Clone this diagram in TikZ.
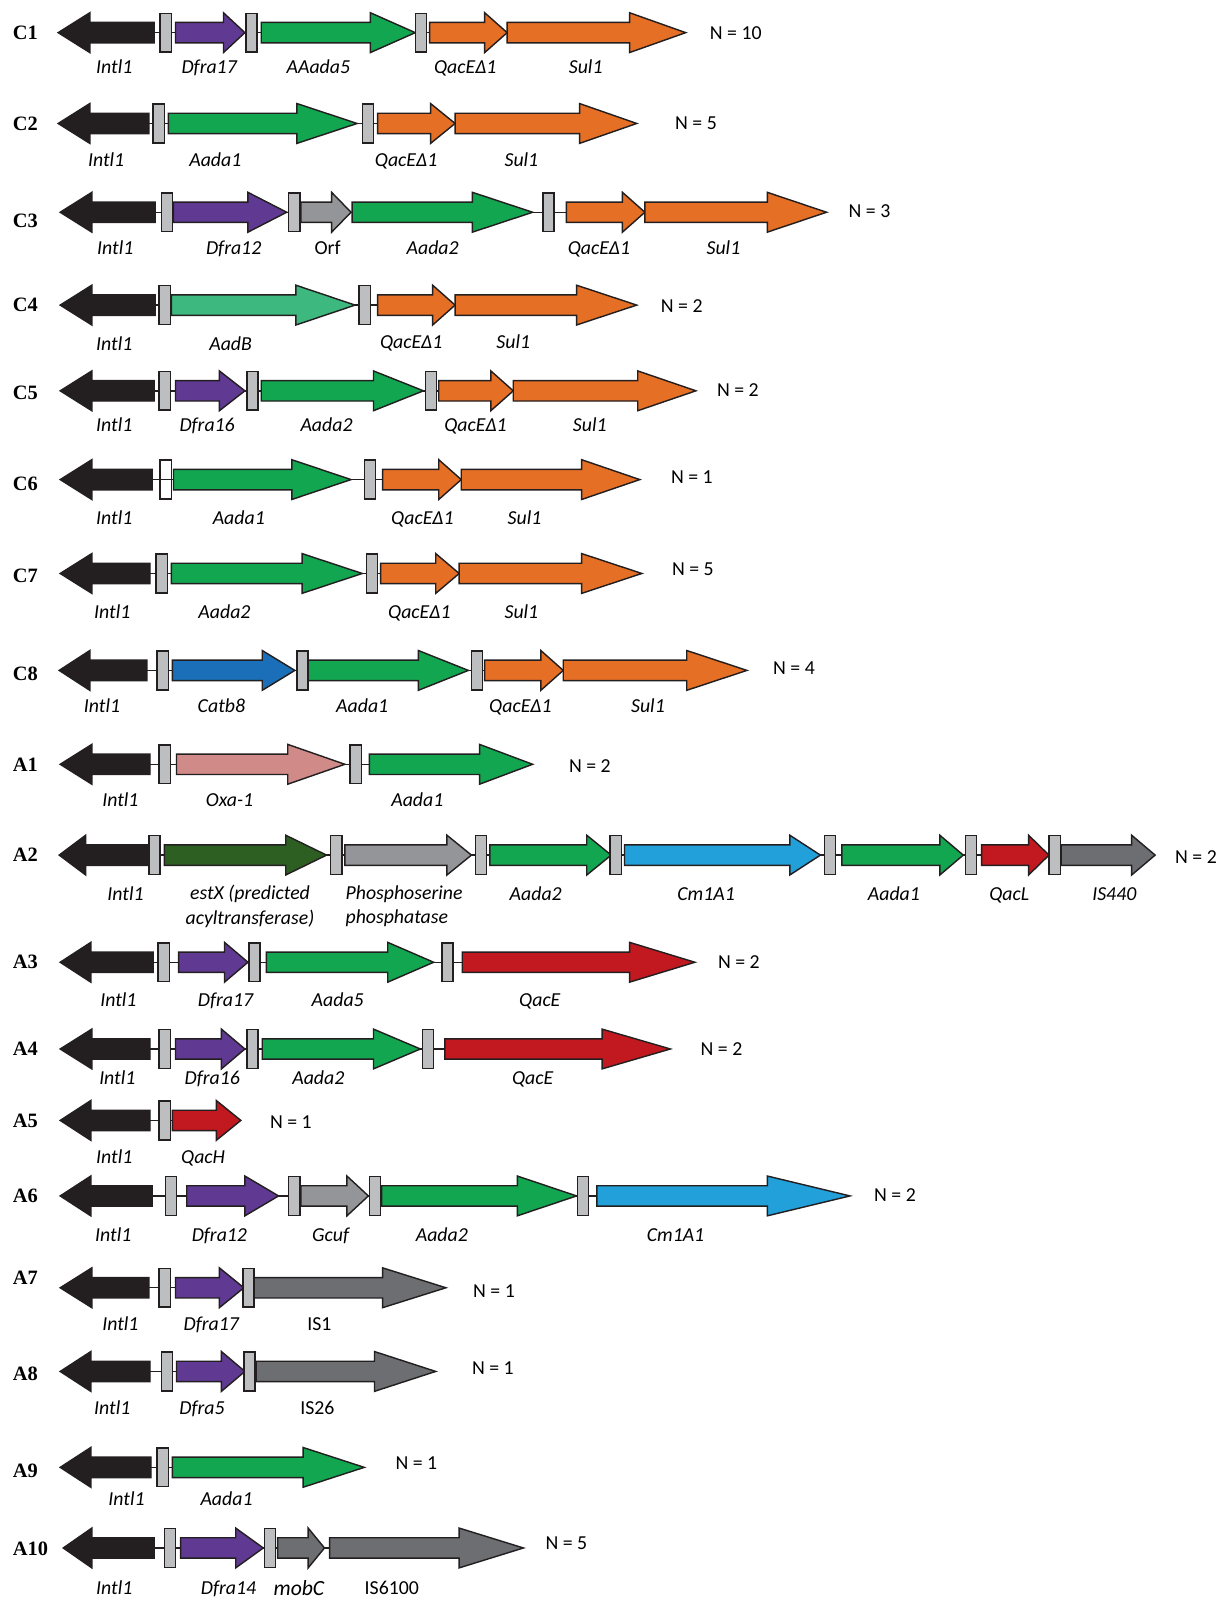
\documentclass[tikz,border=0pt]{standalone}
\usepackage{fontspec}
\setmainfont{Carlito}
\newfontfamily\rowfont{Liberation Serif}

\definecolor{intblack}{HTML}{231F20}
\definecolor{cassgrey}{HTML}{BCBEC0}
\definecolor{dfpurple}{HTML}{603A92}
\definecolor{aagreen}{HTML}{13A651}
\definecolor{adbgreen}{HTML}{3DB87E}
\definecolor{qacorange}{HTML}{E66F26}
\definecolor{catblue}{HTML}{1A6FB8}
\definecolor{oxapink}{HTML}{D08A88}
\definecolor{estgreen}{HTML}{2E5F22}
\definecolor{orfgrey}{HTML}{939598}
\definecolor{cmblue}{HTML}{22A0DA}
\definecolor{qacred}{HTML}{C1191F}
\definecolor{isgrey}{HTML}{6D6E71}

\tikzset{every picture/.style={line width=0.7pt}}
\tikzset{
  gene/.style={draw=intblack, line join=miter},
  cass/.style={draw=intblack, fill=cassgrey},
  bb/.style={draw=intblack},
  twolab/.style={font=\fontsize{9.7}{12}\selectfont\itshape, inner sep=0pt},
  lab/.style={twolab, text height=6.8pt, text depth=1.8pt, yshift=-0.8pt},
  uplab/.style={font=\fontsize{9.7}{12}\selectfont, inner sep=0pt, text height=6.8pt, text depth=1.8pt, yshift=-0.8pt},
  nlab/.style={font=\fontsize{9.7}{12}\selectfont, anchor=west, inner sep=0pt},
  rowlab/.style={font=\rowfont\bfseries\fontsize{10}{12}\selectfont, anchor=west, inner sep=0pt}
}

% gene arrow pointing right: colour, start, head start, tip, y
\newcommand{\gene}[5]{\draw[gene,fill=#1] (#2,#5-10) -- (#3,#5-10) -- (#3,#5-19.5) -- (#4,#5) -- (#3,#5+19.5) -- (#3,#5+10) -- (#2,#5+10) -- cycle;}
% integrase arrow pointing left: tip, head base, tail, y
\newcommand{\intl}[4]{\draw[gene,fill=intblack] (#3,#4-10) -- (#2,#4-10) -- (#2,#4-19.5) -- (#1,#4) -- (#2,#4+19.5) -- (#2,#4+10) -- (#3,#4+10) -- cycle;}
% attC box: x, y
\newcommand{\cass}[2]{\draw[cass] (#1,#2-19) rectangle ++(11,38);}
% backbone line: name, from, to, y
\newcommand{\backbone}[4]{\coordinate (#1a) at (#2,#4); \coordinate (#1b) at (#3,#4); \draw[bb] (#1a) -- (#1b);}

\begin{document}
\begin{tikzpicture}[x=0.5pt,y=0.5pt,yscale=-1,xscale=1]
\useasboundingbox (0,0) rectangle (1198,1568);

% Row C1
\backbone{c1}{151}{497}{32}
\intl{57}{88}{151}{32}
\cass{157}{32}
\gene{dfpurple}{172}{219}{240}{32}
\cass{241}{32}
\gene{aagreen}{256}{363}{407}{32}
\cass{407}{32}
\gene{qacorange}{421}{475}{497}{32}
\gene{qacorange}{497}{617}{672}{32}
\node[rowlab] (c1) at (12,32) {C1};
\node[lab] (c1g1) at (112,65) {Intl1};
\node[lab] (c1g2) at (205,65) {Dfra17};
\node[lab] (c1g3) at (312,65) {AAada5};
\node[lab] (c1g4) at (456,65) {QacEΔ1};
\node[lab] (c1g5) at (574,65) {Sul1};
\node[nlab] (c1n) at (695,32) {N = 10};

% Row C2
\backbone{c2}{146}{446}{121}
\intl{57}{88}{146}{121}
\cass{150}{121}
\gene{aagreen}{165}{291}{350}{121}
\cass{355}{121}
\gene{qacorange}{370}{422}{446}{121}
\gene{qacorange}{446}{568}{624}{121}
\node[rowlab] (c2) at (12,121) {C2};
\node[lab] (c2g1) at (104,157) {Intl1};
\node[lab] (c2g2) at (211,157) {Aada1};
\node[lab] (c2g3) at (398,157) {QacEΔ1};
\node[lab] (c2g4) at (511,157) {Sul1};
\node[nlab] (c2n) at (661,121) {N = 5};

% Row C3
\backbone{c3}{152}{632}{208}
\intl{59}{90}{152}{208}
\cass{158}{208}
\gene{dfpurple}{170}{243}{281}{208}
\cass{283}{208}
\gene{orfgrey}{295}{325}{344}{208}
\gene{aagreen}{345}{463}{522}{208}
\cass{532}{208}
\gene{qacorange}{555}{610}{632}{208}
\gene{qacorange}{632}{752}{810}{208}
\node[rowlab] (c3) at (12,216) {C3};
\node[lab] (c3g1) at (113,243) {Intl1};
\node[lab] (c3g2) at (229,243) {Dfra12};
\node[uplab] (c3g3) at (321,243) {Orf};
\node[lab] (c3g4) at (424,243) {Aada2};
\node[lab] (c3g5) at (587,243) {QacEΔ1};
\node[lab] (c3g6) at (709,243) {Sul1};
\node[nlab] (c3n) at (831,207) {N = 3};

% Row C4
\backbone{c4}{152}{446}{299}
\intl{59}{90}{152}{299}
\cass{156}{299}
\gene{adbgreen}{168}{290}{348}{299}
\cass{352}{299}
\gene{qacorange}{370}{424}{446}{299}
\gene{qacorange}{446}{565}{624}{299}
\node[rowlab] (c4) at (12,299) {C4};
\node[lab] (c4g1) at (112,337) {Intl1};
\node[lab] (c4g2) at (226,337) {AadB};
\node[lab] (c4g3) at (403,335) {QacEΔ1};
\node[lab] (c4g4) at (503,335) {Sul1};
\node[nlab] (c4n) at (647,300) {N = 2};

% Row C5
\backbone{c5}{151}{503}{383}
\intl{59}{90}{151}{383}
\cass{156}{383}
\gene{dfpurple}{172}{215}{240}{383}
\cass{242}{383}
\gene{aagreen}{256}{366}{415}{383}
\cass{417}{383}
\gene{qacorange}{430}{481}{503}{383}
\gene{qacorange}{503}{625}{682}{383}
\node[rowlab] (c5) at (12,385) {C5};
\node[lab] (c5g1) at (112,416) {Intl1};
\node[lab] (c5g2) at (203,416) {Dfra16};
\node[lab] (c5g3) at (320,416) {Aada2};
\node[lab] (c5g4) at (466,416) {QacEΔ1};
\node[lab] (c5g5) at (578,416) {Sul1};
\node[nlab] (c5n) at (702,382) {N = 2};

% Row C6
\backbone{c6}{149}{452}{470}
\intl{59}{90}{149}{470}
\draw[draw=intblack] (157,451) rectangle ++(11,38);
\gene{aagreen}{170}{286}{344}{470}
\cass{357}{470}
\gene{qacorange}{375}{430}{452}{470}
\gene{qacorange}{452}{570}{627}{470}
\node[rowlab] (c6) at (12,474) {C6};
\node[lab] (c6g1) at (112,507) {Intl1};
\node[lab] (c6g2) at (234,507) {Aada1};
\node[lab] (c6g3) at (414,507) {QacEΔ1};
\node[lab] (c6g4) at (514,507) {Sul1};
\node[nlab] (c6n) at (657,468) {N = 1};

% Row C7
\backbone{c7}{147}{450}{562}
\intl{59}{90}{147}{562}
\cass{153}{562}
\gene{aagreen}{168}{296}{355}{562}
\cass{359}{562}
\gene{qacorange}{373}{427}{450}{562}
\gene{qacorange}{450}{570}{629}{562}
\node[rowlab] (c7) at (12,564) {C7};
\node[lab] (c7g1) at (110,600) {Intl1};
\node[lab] (c7g2) at (220,600) {Aada2};
\node[lab] (c7g3) at (411,600) {QacEΔ1};
\node[lab] (c7g4) at (511,600) {Sul1};
\node[nlab] (c7n) at (658,558) {N = 5};

% Row C8
\backbone{c8}{144}{552}{657}
\intl{58}{88}{144}{657}
\cass{154}{657}
\gene{catblue}{169}{257}{289}{657}
\cass{291}{657}
\gene{aagreen}{302}{410}{459}{657}
\cass{462}{657}
\gene{qacorange}{475}{530}{552}{657}
\gene{qacorange}{552}{673}{732}{657}
\node[rowlab] (c8) at (12,660) {C8};
\node[lab] (c8g1) at (100,692) {Intl1};
\node[lab] (c8g2) at (217,692) {Catb8};
\node[lab] (c8g3) at (355,692) {Aada1};
\node[lab] (c8g4) at (510,692) {QacEΔ1};
\node[lab] (c8g5) at (635,692) {Sul1};
\node[nlab] (c8n) at (757,655) {N = 4};

% Row A1
\backbone{a1}{147}{362}{749}
\intl{59}{90}{147}{749}
\cass{156}{749}
\gene{oxapink}{173}{282}{338}{749}
\cass{343}{749}
\gene{aagreen}{362}{470}{522}{749}
\node[rowlab] (a1) at (12,749) {A1};
\node[lab] (a1g1) at (118,784) {Intl1};
\node[lab] (a1g2) at (225,784) {Oxa-1};
\node[lab] (a1g3) at (409,784) {Aada1};
\node[nlab] (a1n) at (557,751) {N = 2};

% Row A2
\backbone{a2}{145}{1040}{838}
\intl{58}{84}{145}{838}
\cass{146}{838}
\gene{estgreen}{161}{280}{320}{838}
\cass{324}{838}
\gene{orfgrey}{338}{438}{462}{838}
\cass{466}{838}
\gene{aagreen}{480}{575}{599}{838}
\cass{598}{838}
\gene{cmblue}{612}{774}{804}{838}
\cass{808}{838}
\gene{aagreen}{825}{921}{944}{838}
\cass{946}{838}
\gene{qacred}{962}{1008}{1028}{838}
\cass{1028}{838}
\gene{isgrey}{1040}{1109}{1132}{838}
\node[rowlab] (a2) at (12,838) {A2};
\node[lab] (a2g1) at (123,876) {Intl1};
\node[twolab, align=center] (a2g2) at (245,888) {estX (predicted\\acyltransferase)};
\node[twolab, align=left, anchor=west] (a2g3) at (338,888) {Phosphoserine\\phosphatase};
\node[lab] (a2g4) at (525,876) {Aada2};
\node[lab] (a2g5) at (692,876) {Cm1A1};
\node[lab] (a2g6) at (876,876) {Aada1};
\node[lab] (a2g7) at (989,876) {QacL};
\node[lab] (a2g8) at (1092,876) {IS440};
\node[nlab] (a2n) at (1151,840) {N = 2};

% Row A3
\backbone{a3}{150}{453}{943}
\intl{59}{89}{150}{943}
\cass{155}{943}
\gene{dfpurple}{175}{220}{243}{943}
\cass{244}{943}
\gene{aagreen}{261}{380}{425}{943}
\cass{433}{943}
\gene{qacred}{453}{617}{681}{943}
\node[rowlab] (a3) at (12,943) {A3};
\node[lab] (a3g1) at (116,980) {Intl1};
\node[lab] (a3g2) at (221,980) {Dfra17};
\node[lab] (a3g3) at (331,980) {Aada5};
\node[lab] (a3g4) at (529,980) {QacE};
\node[nlab] (a3n) at (703,943) {N = 2};

% Row A4
\backbone{a4}{147}{436}{1028}
\intl{59}{90}{147}{1028}
\cass{156}{1028}
\gene{dfpurple}{172}{217}{240}{1028}
\cass{242}{1028}
\gene{aagreen}{257}{366}{412}{1028}
\cass{414}{1028}
\gene{qacred}{436}{590}{657}{1028}
\node[rowlab] (a4) at (12,1028) {A4};
\node[lab] (a4g1) at (115,1056) {Intl1};
\node[lab] (a4g2) at (208,1056) {Dfra16};
\node[lab] (a4g3) at (312,1056) {Aada2};
\node[lab] (a4g4) at (522,1056) {QacE};
\node[nlab] (a4n) at (686,1028) {N = 2};

% Row A5
\backbone{a5}{147}{169}{1098}
\intl{59}{89}{147}{1098}
\cass{156}{1098}
\gene{qacred}{169}{212}{236}{1098}
\node[rowlab] (a5) at (12,1098) {A5};
\node[lab] (a5g1) at (112,1134) {Intl1};
\node[lab] (a5g2) at (199,1134) {QacH};
\node[nlab] (a5n) at (264,1100) {N = 1};

% Row A6
\backbone{a6}{149}{585}{1172}
\intl{59}{89}{149}{1172}
\cass{162}{1172}
\gene{dfpurple}{183}{240}{273}{1172}
\cass{283}{1172}
\gene{orfgrey}{295}{340}{361}{1172}
\cass{362}{1172}
\gene{aagreen}{374}{507}{565}{1172}
\cass{566}{1172}
\gene{cmblue}{585}{752}{833}{1172}
\node[rowlab] (a6) at (12,1172) {A6};
\node[lab] (a6g1) at (111,1210) {Intl1};
\node[lab] (a6g2) at (215,1210) {Dfra12};
\node[lab] (a6g3) at (324,1210) {Gcuf};
\node[lab] (a6g4) at (433,1210) {Aada2};
\node[lab] (a6g5) at (662,1210) {Cm1A1};
\node[nlab] (a6n) at (856,1171) {N = 2};

% Row A7
\backbone{a7}{146}{249}{1262}
\intl{59}{90}{146}{1262}
\cass{156}{1262}
\gene{dfpurple}{172}{215}{239}{1262}
\cass{238}{1262}
\gene{isgrey}{249}{375}{437}{1262}
\node[rowlab] (a7) at (12,1252) {A7};
\node[lab] (a7g1) at (118,1297) {Intl1};
\node[lab] (a7g2) at (207,1297) {Dfra17};
\node[uplab] (a7g3) at (313,1297) {IS1};
\node[nlab] (a7n) at (463,1265) {N = 1};

% Row A8
\backbone{a8}{147}{251}{1344}
\intl{59}{89}{147}{1344}
\cass{158}{1344}
\gene{dfpurple}{173}{217}{240}{1344}
\cass{239}{1344}
\gene{isgrey}{251}{367}{427}{1344}
\node[rowlab] (a8) at (12,1346) {A8};
\node[lab] (a8g1) at (110,1380) {Intl1};
\node[lab] (a8g2) at (198,1380) {Dfra5};
\node[uplab] (a8g3) at (311,1380) {IS26};
\node[nlab] (a8n) at (462,1341) {N = 1};

% Row A9
\backbone{a9}{148}{169}{1438}
\intl{59}{89}{148}{1438}
\cass{154}{1438}
\gene{aagreen}{169}{297}{357}{1438}
\node[rowlab] (a9) at (12,1441) {A9};
\node[lab] (a9g1) at (124,1469) {Intl1};
\node[lab] (a9g2) at (222,1469) {Aada1};
\node[nlab] (a9n) at (387,1434) {N = 1};

% Row A10
\backbone{a10}{151}{323}{1517}
\intl{62}{90}{151}{1517}
\cass{161}{1517}
\gene{dfpurple}{177}{231}{258}{1517}
\cass{259}{1517}
\gene{isgrey}{272}{302}{318}{1517}
\gene{isgrey}{323}{450}{513}{1517}
\node[rowlab] (a10) at (12,1518) {A10};
\node[lab] (a10g1) at (112,1556) {Intl1};
\node[lab] (a10g2) at (224,1556) {Dfra14};
\node[lab, font=\fontsize{10.6}{12}\selectfont\itshape] (a10g3) at (293,1557) {mobC};
\node[uplab] (a10g4) at (384,1556) {IS6100};
\node[nlab] (a10n) at (534,1512) {N = 5};

\end{tikzpicture}
\end{document}
